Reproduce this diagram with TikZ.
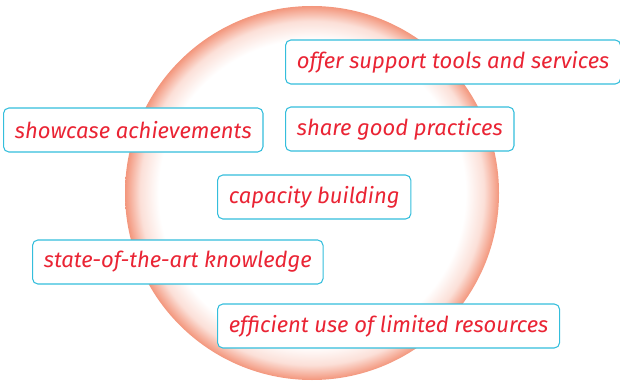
\documentclass[tikz,border=0pt]{standalone}
\usepackage{fontspec}
\setmainfont{Fira Sans}
\definecolor{edgesalmon}{RGB}{243,150,124}
\definecolor{boxcyan}{RGB}{52,190,220}
\definecolor{txtred}{RGB}{234,36,52}
\pgfdeclareradialshading{ball}{\pgfpoint{0bp}{0bp}}{color(0bp)=(white); color(20.5bp)=(white); color(23bp)=(edgesalmon!30); color(25bp)=(edgesalmon); color(50bp)=(edgesalmon)}
\tikzset{
	goal/.style={draw=boxcyan, line width=0.8pt, fill=white, rounded corners=4pt, anchor=west,
		text=txtred, font=\fontsize{16.5}{18}\selectfont\itshape, inner xsep=8.5pt, minimum height=33pt}
}
\begin{document}
\begin{tikzpicture}[x=0.75pt,y=-0.75pt]
	\useasboundingbox (0,0) rectangle (620,381);
	\shade[shading=ball] (312,193) circle (187);
	\node[goal] (tools) at (285,62) {offer support tools and services};
	\node[goal] (showcase) at (3,130) {showcase achievements};
	\node[goal] (practices) at (285,129) {share good practices};
	\node[goal] (capacity) at (217,197) {capacity building};
	\node[goal] (knowledge) at (32,262) {state-of-the-art knowledge};
	\node[goal] (resources) at (217,326) {efficient use of limited resources};
\end{tikzpicture}
\end{document}
